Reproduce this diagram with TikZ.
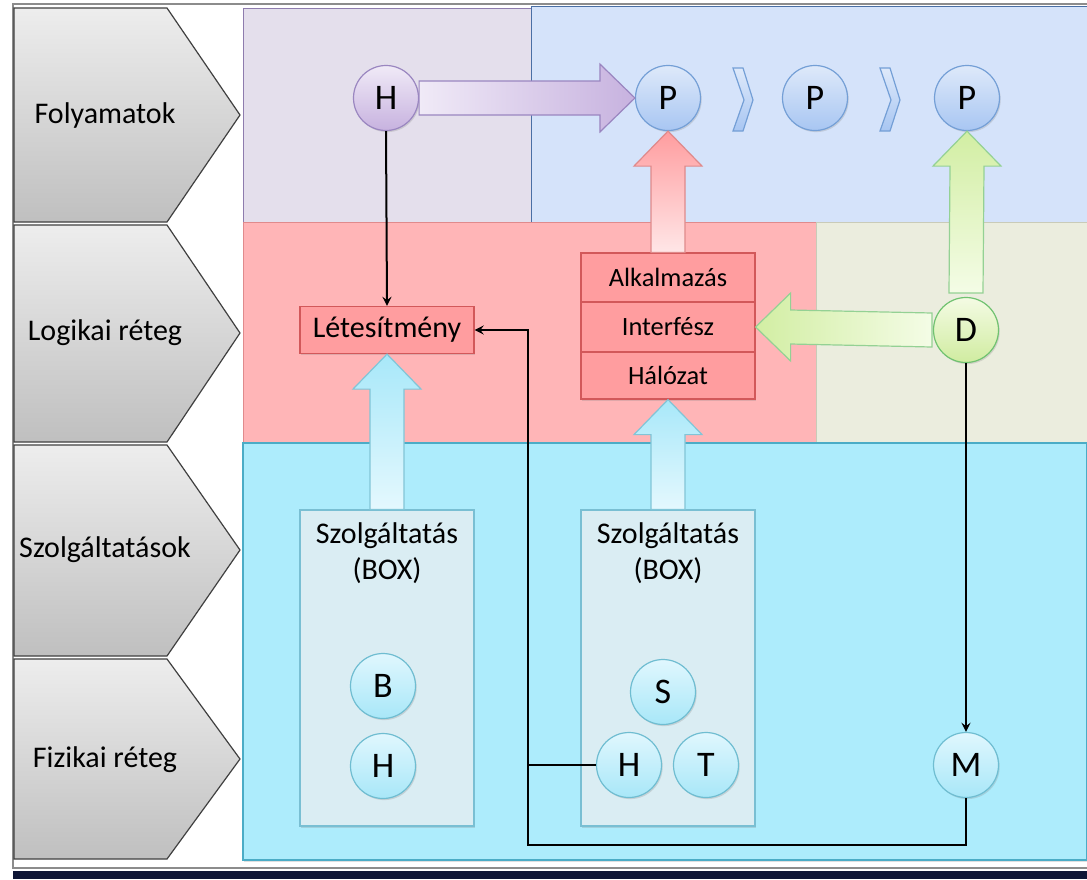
\documentclass[tikz,border=0pt]{standalone}
\usepackage{fontspec}
\setmainfont{Carlito}
\usetikzlibrary{calc,shadows}

\definecolor{sotetkek}{HTML}{0E1535}
\definecolor{lilaHatter}{HTML}{E4DFEC}
\definecolor{lilaVonal}{HTML}{8E7CAE}
\definecolor{kekHatter}{HTML}{D5E3FA}
\definecolor{kekVonal}{HTML}{4A6FA5}
\definecolor{pirosHatter}{HTML}{FFB5B7}
\definecolor{pirosVonal}{HTML}{E08A8C}
\definecolor{bezsHatter}{HTML}{EBEDDE}
\definecolor{bezsVonal}{HTML}{C9CBB8}
\definecolor{cianHatter}{HTML}{ADECFC}
\definecolor{cianVonal}{HTML}{4BACC6}
\definecolor{szolgHatter}{HTML}{DAEDF3}
\definecolor{szolgVonal}{HTML}{79BFD3}
\definecolor{dobozPiros}{HTML}{FF9D9F}
\definecolor{dobozVonal}{HTML}{D2585A}
\definecolor{lilaVilagos}{HTML}{F0EAF7}
\definecolor{lilaSotet}{HTML}{C7B2DF}
\definecolor{lilaKorvonal}{HTML}{9A86C0}
\definecolor{kekVilagos}{HTML}{DEE9FA}
\definecolor{kekSotet}{HTML}{A8C6F2}
\definecolor{kekKorvonal}{HTML}{749FD6}

\begin{document}
\begin{tikzpicture}[x=0.5pt, y=-0.5pt,
  retegnyil/.style={draw=black!75, line width=0.6pt, top color=black!7, bottom color=black!25},
  retegfelirat/.style={font=\fontsize{15}{18}\selectfont},
  kor/.style={circle, minimum size=32.5pt, inner sep=0pt, line width=0.6pt,
    font=\fontsize{18}{20}\selectfont, drop shadow={opacity=0.25, shadow xshift=0.6pt, shadow yshift=-0.8pt}},
  korlila/.style={kor, draw=lilaKorvonal, top color=lilaVilagos, bottom color=lilaSotet},
  korkek/.style={kor, draw=kekKorvonal, top color=kekVilagos, bottom color=kekSotet},
  korzold/.style={kor, draw=green!40!gray!80, top color={rgb,255:red,244;green,251;blue,228}, bottom color={rgb,255:red,208;green,236;blue,160}},
  korcian/.style={kor, draw=cianVonal!80, top color={rgb,255:red,224;green,247;blue,254}, bottom color={rgb,255:red,168;green,231;blue,248}},
  pirosdoboz/.style={draw=dobozVonal, fill=dobozPiros, line width=0.6pt, minimum width=87pt, inner sep=0pt,
    font=\fontsize{13.2}{15}\selectfont, drop shadow={opacity=0.25, shadow xshift=0.6pt, shadow yshift=-0.8pt}},
  szolgdoboz/.style={draw=szolgVonal, fill=szolgHatter, line width=0.6pt, minimum width=87pt, minimum height=158pt,
    drop shadow={opacity=0.25, shadow xshift=0.6pt, shadow yshift=-0.8pt}},
  szolgfelirat/.style={align=center, font=\fontsize{15}{18}\selectfont},
  vezetek/.style={line width=1pt, black},
  lilanyil/.style={draw=lilaKorvonal, line width=0.6pt, left color=lilaVilagos, right color=lilaSotet},
  pirosnyil/.style={draw=dobozVonal!70, line width=0.6pt, bottom color={rgb,255:red,255;green,230;blue,231}, top color=dobozPiros},
  zoldnyil/.style={draw=green!40!gray!60, line width=0.6pt, bottom color={rgb,255:red,244;green,252;blue,230}, top color={rgb,255:red,210;green,238;blue,163}},
  zoldbalnyil/.style={draw=green!40!gray!60, line width=0.6pt, right color={rgb,255:red,244;green,252;blue,230}, left color={rgb,255:red,210;green,238;blue,163}},
  ciannyil/.style={draw=cianVonal!70, line width=0.6pt, bottom color={rgb,255:red,228;green,248;blue,254}, top color={rgb,255:red,168;green,232;blue,249}},
  kekjel/.style={draw=kekKorvonal, line width=0.6pt, top color=kekVilagos, bottom color=kekSotet}
]
\useasboundingbox (0,0) rectangle (1087,879);

% Keret
\fill[white] (0,0) rectangle (1087,879);
\draw[black!45, line width=0.8pt] (1087,4) -- (13,4) -- (13,868) -- (1087,868);
\fill[sotetkek] (13,871) rectangle (1087,879);

% Retegek
\shadedraw[retegnyil] (14,8) -- (167,8) -- (240,115) -- (167,222) -- (14,222) -- cycle;
\node[retegfelirat] (folyamatok) at (105,115) {Folyamatok};
\shadedraw[retegnyil] (14,225) -- (167,225) -- (240,333) -- (167,442) -- (14,442) -- cycle;
\node[retegfelirat] (logikai) at (105,333) {Logikai réteg};
\shadedraw[retegnyil] (14,445) -- (167,445) -- (240,550) -- (167,656) -- (14,656) -- cycle;
\node[retegfelirat] (szolgaltatasok) at (105,550) {Szolgáltatások};
\shadedraw[retegnyil] (14,659) -- (167,659) -- (240,759) -- (167,859) -- (14,859) -- cycle;
\node[retegfelirat] (fizikai) at (105,760) {Fizikai réteg};

% Hatterek
\draw[fill=lilaHatter, draw=lilaVonal, line width=0.5pt] (243,8) rectangle (531,222);
\draw[fill=kekHatter, draw=kekVonal, line width=0.5pt] (531,6) rectangle (1087,222);
\draw[fill=pirosHatter, draw=pirosVonal, line width=0.5pt] (243,222) rectangle (816,443);
\draw[fill=bezsHatter, draw=bezsVonal, line width=0.5pt] (816,222) rectangle (1087,443);
\draw[fill=cianHatter, draw=cianVonal, line width=0.6pt, drop shadow={opacity=0.25, shadow xshift=0.6pt, shadow yshift=-0.8pt}] (243,443) rectangle (1087,860);

% Szolgaltatas dobozok
\node[szolgdoboz] (szolg1) at (387,668) {};
\node[szolgfelirat] (szolg1f) at ($(szolg1.north)+(0,44)$) {Szolgáltatás\\(BOX)};
\node[szolgdoboz] (szolg2) at (668,668) {};
\node[szolgfelirat] (szolg2f) at ($(szolg2.north)+(0,44)$) {Szolgáltatás\\(BOX)};

% Logikai dobozok
\node[pirosdoboz, minimum height=23.5pt, font=\fontsize{15}{17}\selectfont] (letes) at (387,330) {Létesítmény};
\node[pirosdoboz, minimum height=24.5pt] (alk) at (668,277.5) {Alkalmazás};
\node[pirosdoboz, minimum height=25pt] (intf) at (668,327) {Interfész};
\node[pirosdoboz, minimum height=23.5pt] (hal) at (668,375.5) {Hálózat};

% Korok
\node[korlila] (hfolyamat) at (386,98) {H};
\node[korkek] (p1) at (668,98) {P};
\node[korkek] (p2) at (815,98) {P};
\node[korkek] (p3) at (967,98) {P};
\node[korzold] (d) at (966,330) {D};
\node[korcian] (b) at (383,686) {B};
\node[korcian] (hfiz) at (383,766) {H};
\node[korcian] (s) at (663,692) {S};
\node[korcian] (hszolg) at (629,765) {H};
\node[korcian] (t) at (706,765) {T};
\node[korcian] (m) at (966,765) {M};

% P-k kozotti jelek
\shadedraw[kekjel] (733,68) -- (743,68) -- (753,100) -- (743,131) -- (733,131) -- (744,100) -- cycle;
\shadedraw[kekjel] (880,68) -- (890,68) -- (900,100) -- (890,131) -- (880,131) -- (891,100) -- cycle;

% Vastag nyilak
\shadedraw[lilanyil] ($(hfolyamat.east)+(0,-17)$) -- ($(p1.west)+(-35,-17)$) -- ($(p1.west)+(-35,-34)$) -- (p1.west)
  -- ($(p1.west)+(-35,34)$) -- ($(p1.west)+(-35,17)$) -- ($(hfolyamat.east)+(0,17)$) -- cycle;
\shadedraw[pirosnyil] ($(alk.north)+(-17,0)$) -- ($(p1.south)+(-17,35)$) -- ($(p1.south)+(-34,35)$) -- (p1.south)
  -- ($(p1.south)+(34,35)$) -- ($(p1.south)+(17,35)$) -- ($(alk.north)+(17,0)$) -- cycle;
\shadedraw[zoldnyil] ($(d.north)+(-17,-4)$) -- ($(p3.south)+(-17,35)$) -- ($(p3.south)+(-34,35)$) -- (p3.south)
  -- ($(p3.south)+(34,35)$) -- ($(p3.south)+(17,35)$) -- ($(d.north)+(17,-4)$) -- cycle;
\shadedraw[zoldbalnyil] ($(d.west)+(-1,-17)$) -- ($(intf.east)+(35,-17)$) -- ($(intf.east)+(35,-34)$) -- (intf.east)
  -- ($(intf.east)+(35,34)$) -- ($(intf.east)+(35,17)$) -- ($(d.west)+(-1,17)$) -- cycle;
\shadedraw[ciannyil] ($(szolg1.north)+(-17,0)$) -- ($(letes.south)+(-17,35)$) -- ($(letes.south)+(-34,35)$) -- (letes.south)
  -- ($(letes.south)+(34,35)$) -- ($(letes.south)+(17,35)$) -- ($(szolg1.north)+(17,0)$) -- cycle;
\shadedraw[ciannyil] ($(szolg2.north)+(-17,0)$) -- ($(hal.south)+(-17,35)$) -- ($(hal.south)+(-34,35)$) -- (hal.south)
  -- ($(hal.south)+(34,35)$) -- ($(hal.south)+(17,35)$) -- ($(szolg2.north)+(17,0)$) -- cycle;

% Vezetekek
\coordinate (sarok) at (528,845);
\draw[vezetek, -{stealth}] (hfolyamat.south) -- (letes.north);
\draw[vezetek, -{stealth}] (d.south) -- (m.north);
\draw[vezetek, -{stealth}] (m.south) |- (sarok) |- (letes.east);
\draw[vezetek] (hszolg.west) -- (hszolg.west -| sarok);
\end{tikzpicture}
\end{document}
